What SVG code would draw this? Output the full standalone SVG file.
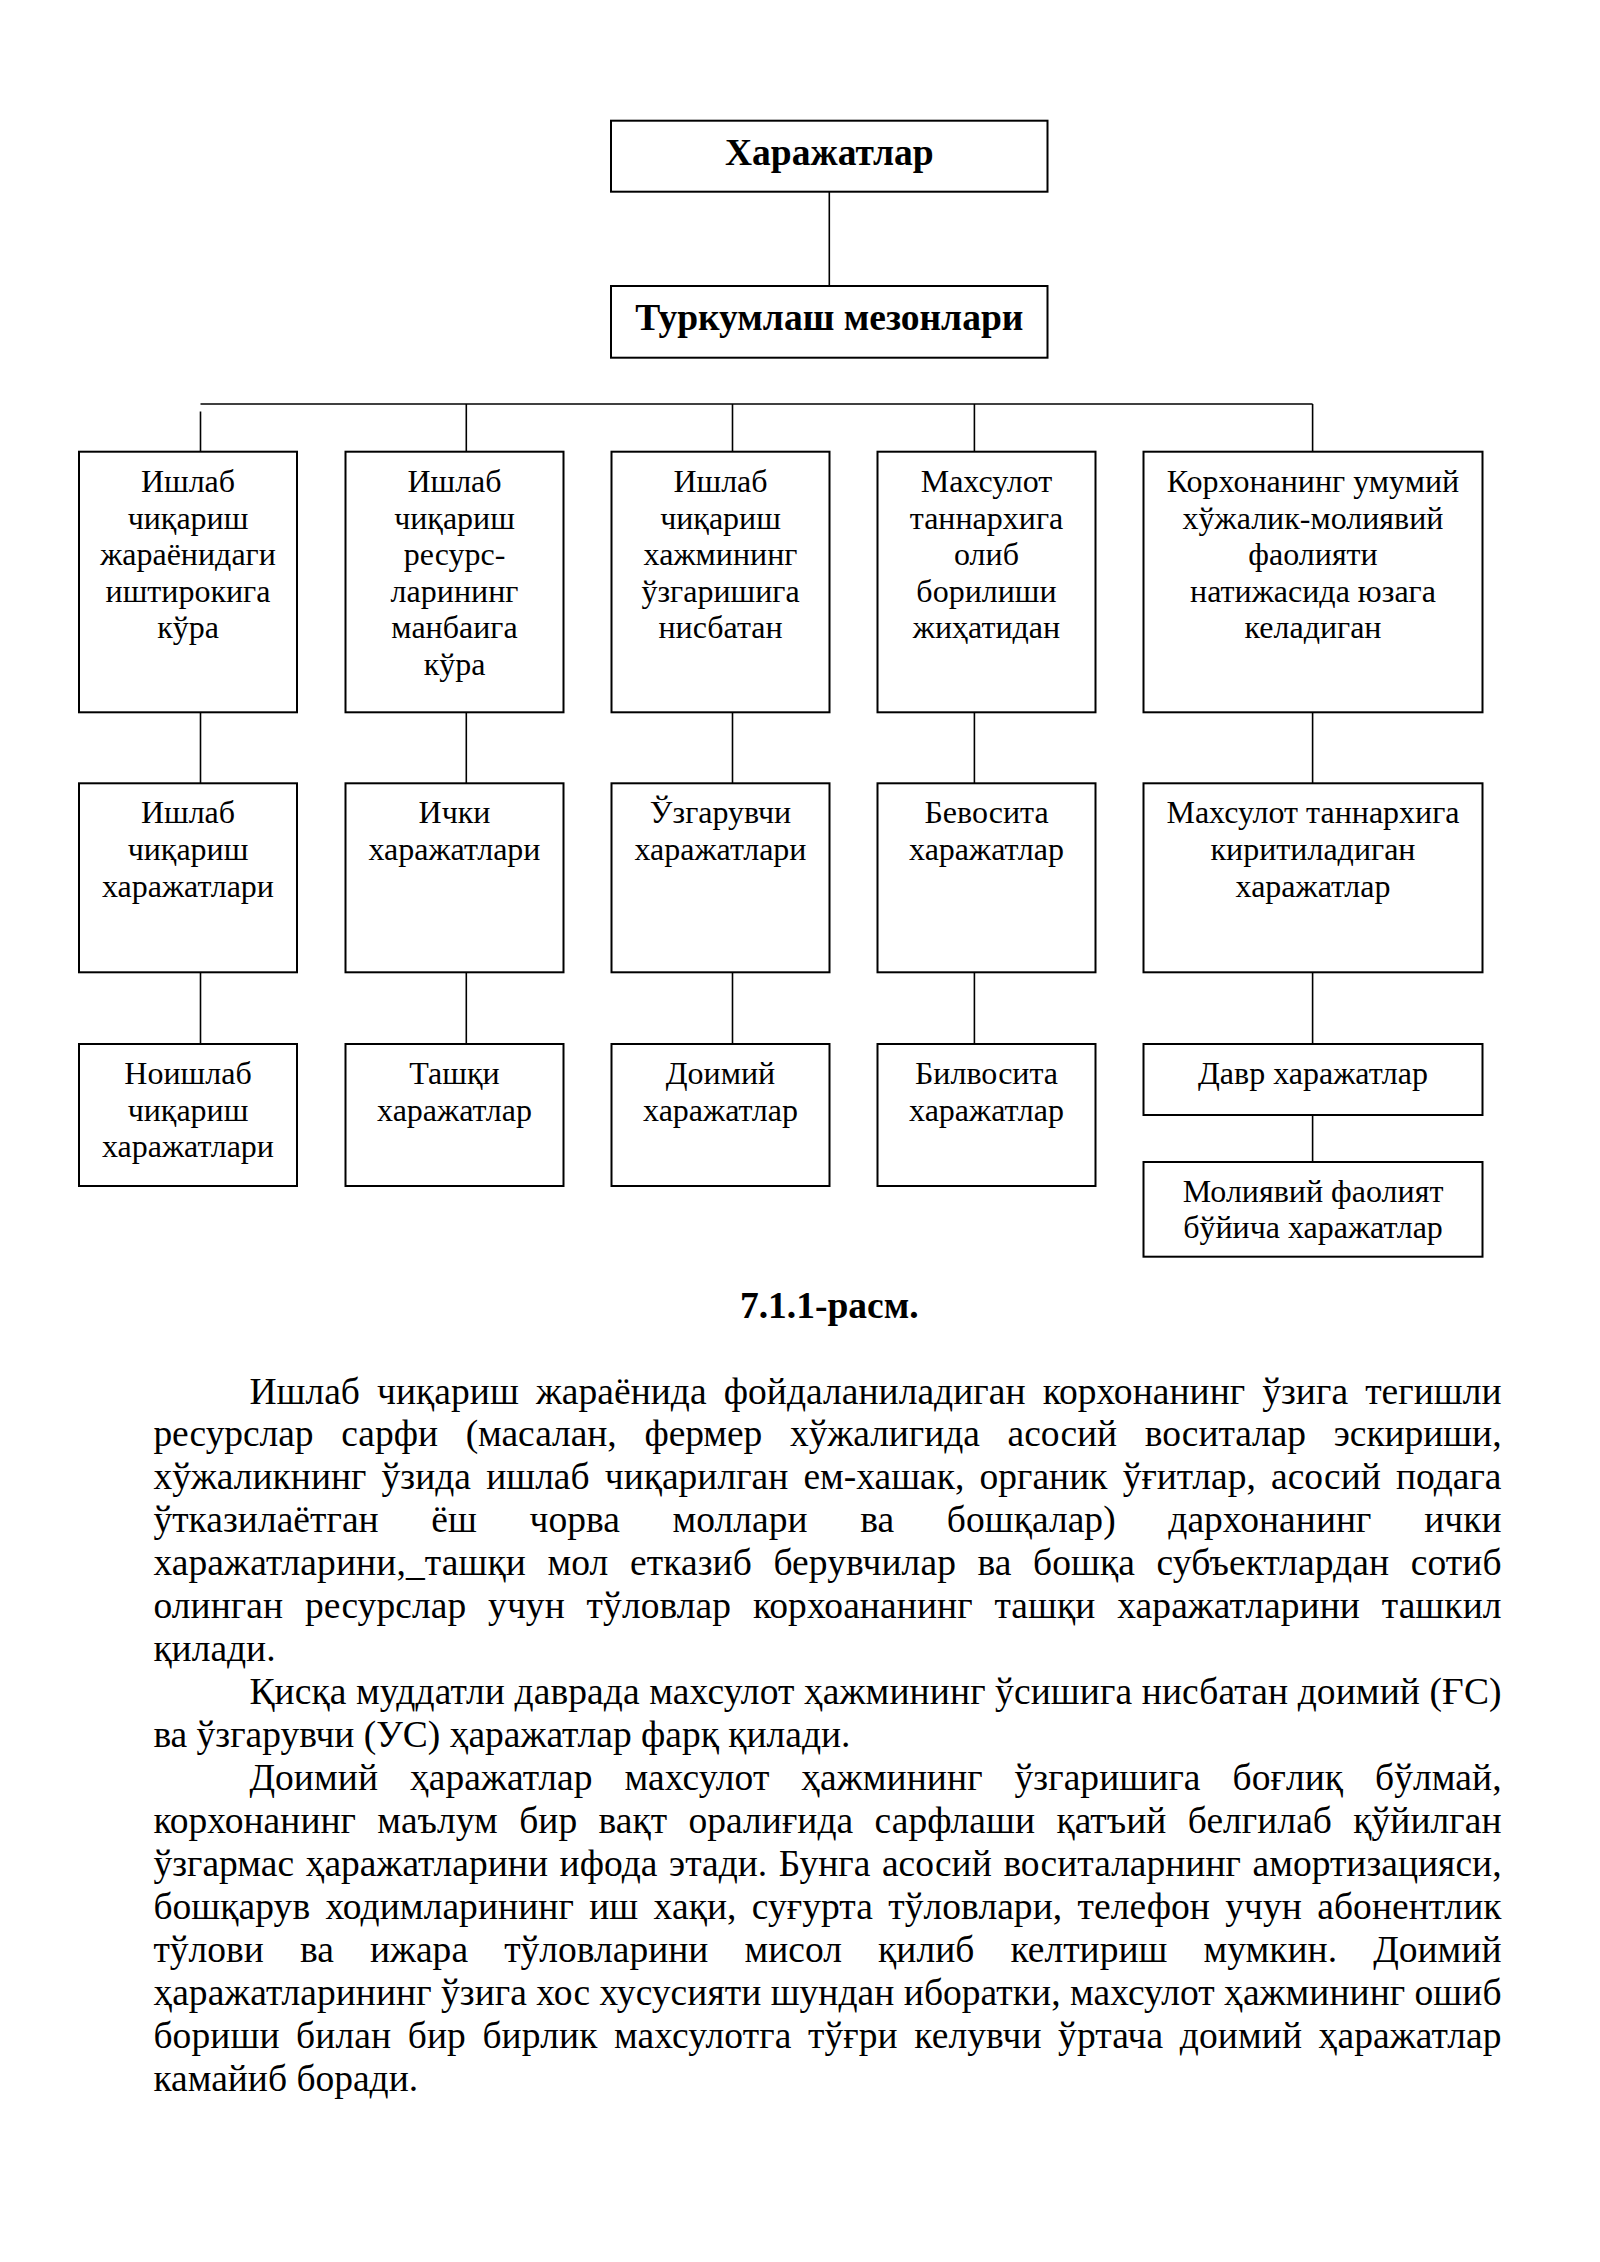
<svg xmlns="http://www.w3.org/2000/svg" width="1600" height="2262" viewBox="0 0 1600 2262">
<style>
.bg{fill:#fff}
.box{fill:#fff;stroke:#000;stroke-width:2}
.ln{stroke:#000;stroke-width:1.6;fill:none}
text{font-family:"Liberation Serif","Times New Roman",serif;fill:#000}
.t{font-size:32px;text-anchor:middle}
.h{font-size:37.5px;font-weight:bold;text-anchor:middle}
.p{font-size:37.5px}
</style>
<rect class="bg" x="0" y="0" width="1600" height="2262"/>

<g id="connectors">
<line class="ln" x1="829.3" y1="191.7" x2="829.3" y2="286"/>
<line class="ln" x1="200.5" y1="404" x2="1312.6" y2="404"/>
<line class="ln" x1="200.5" y1="411.5" x2="200.5" y2="458"/>
<line class="ln" x1="466.3" y1="404" x2="466.3" y2="452"/>
<line class="ln" x1="732.5" y1="404" x2="732.5" y2="452"/>
<line class="ln" x1="974.4" y1="404" x2="974.4" y2="452"/>
<line class="ln" x1="1312.6" y1="404" x2="1312.6" y2="452"/>
<line class="ln" x1="200.5" y1="712.3" x2="200.5" y2="783.3"/>
<line class="ln" x1="466.3" y1="712.3" x2="466.3" y2="783.3"/>
<line class="ln" x1="732.5" y1="712.3" x2="732.5" y2="783.3"/>
<line class="ln" x1="974.4" y1="712.3" x2="974.4" y2="783.3"/>
<line class="ln" x1="1312.6" y1="712.3" x2="1312.6" y2="783.3"/>
<line class="ln" x1="200.5" y1="972.3" x2="200.5" y2="1044"/>
<line class="ln" x1="466.3" y1="972.3" x2="466.3" y2="1044"/>
<line class="ln" x1="732.5" y1="972.3" x2="732.5" y2="1044"/>
<line class="ln" x1="974.4" y1="972.3" x2="974.4" y2="1044"/>
<line class="ln" x1="1312.6" y1="972.3" x2="1312.6" y2="1044"/>
<line class="ln" x1="1312.6" y1="1115" x2="1312.6" y2="1162"/>
</g>

<g id="n-harajatlar">
<rect class="box" x="611" y="120.7" width="436.5" height="71"/>
<text class="h" x="829.3" y="165">Харажатлар</text>
</g>
<g id="n-turkumlash">
<rect class="box" x="611" y="286" width="436.5" height="71.7"/>
<text class="h" x="829.3" y="330">Туркумлаш мезонлари</text>
</g>

<g id="n-r1c1">
<rect class="box" x="79" y="451.7" width="218" height="260.6"/>
<text class="t" x="188" y="492">Ишлаб</text>
<text class="t" x="188" y="528.6">чиқариш</text>
<text class="t" x="188" y="565.2">жараёнидаги</text>
<text class="t" x="188" y="601.8">иштирокига</text>
<text class="t" x="188" y="638.4">кўра</text>
</g>
<g id="n-r1c2">
<rect class="box" x="345.5" y="451.7" width="218" height="260.6"/>
<text class="t" x="454.5" y="492">Ишлаб</text>
<text class="t" x="454.5" y="528.6">чиқариш</text>
<text class="t" x="454.5" y="565.2">ресурс-</text>
<text class="t" x="454.5" y="601.8">ларининг</text>
<text class="t" x="454.5" y="638.4">манбаига</text>
<text class="t" x="454.5" y="675">кўра</text>
</g>
<g id="n-r1c3">
<rect class="box" x="611.5" y="451.7" width="218" height="260.6"/>
<text class="t" x="720.5" y="492">Ишлаб</text>
<text class="t" x="720.5" y="528.6">чиқариш</text>
<text class="t" x="720.5" y="565.2">хажмининг</text>
<text class="t" x="720.5" y="601.8">ўзгаришига</text>
<text class="t" x="720.5" y="638.4">нисбатан</text>
</g>
<g id="n-r1c4">
<rect class="box" x="877.5" y="451.7" width="218" height="260.6"/>
<text class="t" x="986.5" y="492">Махсулот</text>
<text class="t" x="986.5" y="528.6">таннархига</text>
<text class="t" x="986.5" y="565.2">олиб</text>
<text class="t" x="986.5" y="601.8">борилиши</text>
<text class="t" x="986.5" y="638.4">жиҳатидан</text>
</g>
<g id="n-r1c5">
<rect class="box" x="1143.5" y="451.7" width="339" height="260.6"/>
<text class="t" x="1313" y="492">Корхонанинг умумий</text>
<text class="t" x="1313" y="528.6">хўжалик-молиявий</text>
<text class="t" x="1313" y="565.2">фаолияти</text>
<text class="t" x="1313" y="601.8">натижасида юзага</text>
<text class="t" x="1313" y="638.4">келадиган</text>
</g>

<g id="n-r2c1">
<rect class="box" x="79" y="783.3" width="218" height="189"/>
<text class="t" x="188" y="823.3">Ишлаб</text>
<text class="t" x="188" y="860">чиқариш</text>
<text class="t" x="188" y="896.7">харажатлари</text>
</g>
<g id="n-r2c2">
<rect class="box" x="345.5" y="783.3" width="218" height="189"/>
<text class="t" x="454.5" y="823.3">Ички</text>
<text class="t" x="454.5" y="860">харажатлари</text>
</g>
<g id="n-r2c3">
<rect class="box" x="611.5" y="783.3" width="218" height="189"/>
<text class="t" x="720.5" y="823.3">Ўзгарувчи</text>
<text class="t" x="720.5" y="860">харажатлари</text>
</g>
<g id="n-r2c4">
<rect class="box" x="877.5" y="783.3" width="218" height="189"/>
<text class="t" x="986.5" y="823.3">Бевосита</text>
<text class="t" x="986.5" y="860">харажатлар</text>
</g>
<g id="n-r2c5">
<rect class="box" x="1143.5" y="783.3" width="339" height="189"/>
<text class="t" x="1313" y="823.3">Махсулот таннархига</text>
<text class="t" x="1313" y="860">киритиладиган</text>
<text class="t" x="1313" y="896.7">харажатлар</text>
</g>

<g id="n-r3c1">
<rect class="box" x="79" y="1044" width="218" height="142"/>
<text class="t" x="188" y="1084">Ноишлаб</text>
<text class="t" x="188" y="1120.6">чиқариш</text>
<text class="t" x="188" y="1157.2">харажатлари</text>
</g>
<g id="n-r3c2">
<rect class="box" x="345.5" y="1044" width="218" height="142"/>
<text class="t" x="454.5" y="1084">Ташқи</text>
<text class="t" x="454.5" y="1120.6">харажатлар</text>
</g>
<g id="n-r3c3">
<rect class="box" x="611.5" y="1044" width="218" height="142"/>
<text class="t" x="720.5" y="1084">Доимий</text>
<text class="t" x="720.5" y="1120.6">харажатлар</text>
</g>
<g id="n-r3c4">
<rect class="box" x="877.5" y="1044" width="218" height="142"/>
<text class="t" x="986.5" y="1084">Билвосита</text>
<text class="t" x="986.5" y="1120.6">харажатлар</text>
</g>
<g id="n-davr">
<rect class="box" x="1143.5" y="1044" width="339" height="71"/>
<text class="t" x="1313" y="1084">Давр харажатлар</text>
</g>
<g id="n-moliyaviy">
<rect class="box" x="1143.5" y="1162" width="339" height="94.7"/>
<text class="t" x="1313" y="1201.5">Молиявий фаолият</text>
<text class="t" x="1313" y="1238">бўйича харажатлар</text>
</g>

<g id="caption">
<text class="h" x="829.3" y="1318">7.1.1-расм.</text>
</g>

<g id="paragraphs">
<text class="p" x="249.4" y="1403.5" word-spacing="7.7" textLength="1252.1" lengthAdjust="spacing">Ишлаб чиқариш жараёнида фойдаланиладиган корхонанинг ўзига тегишли</text>
<text class="p" x="153.4" y="1446.45" word-spacing="18.5" textLength="1348.1" lengthAdjust="spacing">ресурслар сарфи (масалан, фермер хўжалигида асосий воситалар эскириши,</text>
<text class="p" x="153.4" y="1489.4" word-spacing="5.8" textLength="1348.1" lengthAdjust="spacing">хўжаликнинг ўзида ишлаб чиқарилган ем-хашак, органик ўғитлар, асосий подага</text>
<text class="p" x="153.4" y="1532.35" word-spacing="43.2" textLength="1348.1" lengthAdjust="spacing">ўтказилаётган ёш чорва моллари ва бошқалар) дархонанинг ички</text>
<text class="p" x="153.4" y="1575.3" word-spacing="12" textLength="1348.1" lengthAdjust="spacing">харажатларини,_ташқи мол етказиб берувчилар ва бошқа субъектлардан сотиб</text>
<text class="p" x="153.4" y="1618.25" word-spacing="12.3" textLength="1348.1" lengthAdjust="spacing">олинган ресурслар учун тўловлар корхоананинг ташқи харажатларини ташкил</text>
<text class="p" x="153.4" y="1661.2">қилади.</text>
<text class="p" x="249.4" y="1704.15" textLength="1252.1" lengthAdjust="spacing">Қисқа муддатли даврада махсулот ҳажмининг ўсишига нисбатан доимий (ҒС)</text>
<text class="p" x="153.4" y="1747.1">ва ўзгарувчи (УС) ҳаражатлар фарқ қилади.</text>
<text class="p" x="249.4" y="1790.05" word-spacing="22.5" textLength="1252.1" lengthAdjust="spacing">Доимий ҳаражатлар махсулот ҳажмининг ўзгаришига боғлиқ бўлмай,</text>
<text class="p" x="153.4" y="1833" word-spacing="11.9" textLength="1348.1" lengthAdjust="spacing">корхонанинг маълум бир вақт оралиғида сарфлаши қатъий белгилаб қўйилган</text>
<text class="p" x="153.4" y="1875.95" word-spacing="2.2" textLength="1348.1" lengthAdjust="spacing">ўзгармас ҳаражатларини ифода этади. Бунга асосий воситаларнинг амортизацияси,</text>
<text class="p" x="153.4" y="1918.9" word-spacing="5.9" textLength="1348.1" lengthAdjust="spacing">бошқарув ходимларининг иш хақи, суғурта тўловлари, телефон учун абонентлик</text>
<text class="p" x="153.4" y="1961.85" word-spacing="26.7" textLength="1348.1" lengthAdjust="spacing">тўлови ва ижара тўловларини мисол қилиб келтириш мумкин. Доимий</text>
<text class="p" x="153.4" y="2004.8" textLength="1348.1" lengthAdjust="spacing">ҳаражатларининг ўзига хос хусусияти шундан иборатки, махсулот ҳажмининг ошиб</text>
<text class="p" x="153.4" y="2047.75" word-spacing="7" textLength="1348.1" lengthAdjust="spacing">бориши билан бир бирлик махсулотга тўғри келувчи ўртача доимий ҳаражатлар</text>
<text class="p" x="153.4" y="2090.7">камайиб боради.</text>
</g>
</svg>
